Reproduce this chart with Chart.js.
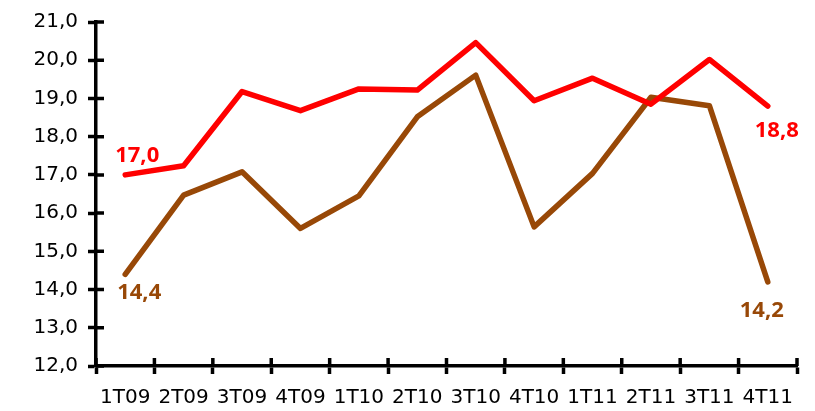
<!DOCTYPE html>
<html>
<head>
<meta charset="utf-8">
<script src="https://cdn.jsdelivr.net/npm/chart.js@4.4.1/dist/chart.umd.min.js"></script>
<style>
  html, body { margin: 0; padding: 0; background: #ffffff; }
  #wrap { width: 815px; height: 411px; position: relative; }
</style>
</head>
<body>
<div id="wrap"><canvas id="chart"></canvas></div>
<script>
// Quarterly series, 2009–2011
const quarters = ['1T09', '2T09', '3T09', '4T09', '1T10', '2T10', '3T10', '4T10', '1T11', '2T11', '3T11', '4T11'];
const redSeries = [17.0, 17.24, 19.18, 18.68, 19.25, 19.22, 20.46, 18.94, 19.53, 18.85, 20.02, 18.8];
const brownSeries = [14.4, 16.47, 17.08, 15.6, 16.45, 18.52, 19.61, 15.64, 17.04, 19.03, 18.81, 14.2];
const yTicks = [12, 13, 14, 15, 16, 17, 18, 19, 20, 21];

const RED = '#ff0000';
const BROWN = '#984807';
const FONT = "'Open Sans', 'Liberation Sans', sans-serif";
const TICK_FONT = "'DejaVu Sans', 'Open Sans', sans-serif";

const fmt = v => v.toFixed(1).replace('.', ',');

// Tick marks that cross the axis line (inner half; the outer half comes from the grid ticks)
const innerTicks = {
  id: 'innerTicks',
  afterDraw(chart) {
    const { ctx, chartArea, scales } = chart;
    ctx.save();
    ctx.strokeStyle = '#000';
    ctx.lineWidth = 3.5;
    ctx.beginPath();
    yTicks.forEach(v => {
      const y = scales.y.getPixelForValue(v);
      ctx.moveTo(chartArea.left, y);
      ctx.lineTo(chartArea.left + 8, y);
    });
    for (let i = 0; i <= quarters.length; i++) {
      const x = scales.x.getPixelForValue(i - 0.5);
      ctx.moveTo(x, chartArea.bottom);
      ctx.lineTo(x, chartArea.bottom - 8);
    }
    ctx.stroke();
    ctx.restore();
  }
};

// Value labels on the first and last points of each series
const endLabels = {
  id: 'endLabels',
  afterDatasetsDraw(chart) {
    const { ctx } = chart;
    const offsets = [
      [[12, -19], [9, 25]],
      [[14, 18], [-6, 29]]
    ];
    ctx.save();
    ctx.font = `bold 22px ${FONT}`;
    ctx.textAlign = 'center';
    ctx.textBaseline = 'middle';
    chart.data.datasets.forEach((ds, di) => {
      const meta = chart.getDatasetMeta(di);
      const last = ds.data.length - 1;
      [[0, offsets[di][0]], [last, offsets[di][1]]].forEach(([idx, off]) => {
        const pt = meta.data[idx];
        ctx.fillStyle = ds.borderColor;
        ctx.fillText(fmt(ds.data[idx]), pt.x + off[0], pt.y + off[1]);
      });
    });
    ctx.restore();
  }
};

new Chart(document.getElementById('chart'), {
  type: 'line',
  data: {
    labels: quarters,
    datasets: [
      { data: redSeries, borderColor: RED, backgroundColor: RED, borderWidth: 5.5, pointRadius: 0, tension: 0, borderJoinStyle: 'round', borderCapStyle: 'round' },
      { data: brownSeries, borderColor: BROWN, backgroundColor: BROWN, borderWidth: 5.5, pointRadius: 0, tension: 0, borderJoinStyle: 'round', borderCapStyle: 'round' }
    ]
  },
  options: {
    responsive: true,
    maintainAspectRatio: false,
    animation: false,
    layout: { padding: { top: 22, right: 18, left: 0, bottom: 0 } },
    plugins: { legend: { display: false }, tooltip: { enabled: false } },
    scales: {
      x: {
        type: 'category',
        offset: true,
        grid: { display: true, drawOnChartArea: false, offset: true, tickLength: 8, tickWidth: 3.5, tickColor: '#000' },
        border: { display: true, color: '#000', width: 3.5 },
        ticks: { color: '#000', font: { family: TICK_FONT, size: 20 }, padding: 12, maxRotation: 0, autoSkip: false },
        afterFit(scale) { scale.height = 45; }
      },
      y: {
        min: 12,
        max: 21,
        afterBuildTicks(scale) { scale.ticks = yTicks.map(v => ({ value: v })); },
        grid: { display: true, drawOnChartArea: false, tickLength: 8, tickWidth: 3.5, tickColor: '#000' },
        border: { display: true, color: '#000', width: 3.5 },
        ticks: { color: '#000', font: { family: TICK_FONT, size: 20 }, padding: 10, callback: v => fmt(v) },
        afterFit(scale) { scale.width = 96; }
      }
    }
  },
  plugins: [innerTicks, endLabels]
});
</script>
</body>
</html>
